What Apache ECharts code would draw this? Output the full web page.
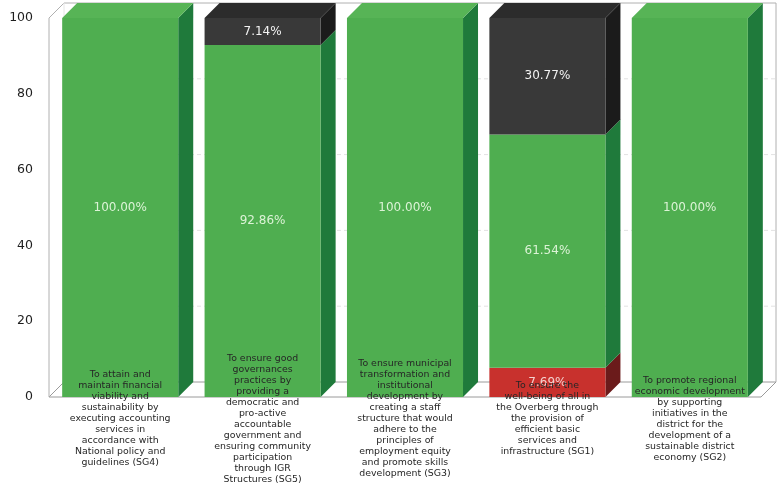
<!DOCTYPE html>
<html>
<head>
<meta charset="utf-8">
<script src="https://cdn.jsdelivr.net/npm/echarts@6/dist/echarts.min.js"></script>
<style>html,body{margin:0;padding:0;background:#fff;}#c{width:777px;height:491px;}</style>
</head>
<body>
<div id="c"></div>
<script>
const categories = [
  "To attain and\nmaintain financial\nviability and\nsustainability by\nexecuting accounting\nservices in\naccordance with\nNational policy and\nguidelines (SG4)",
  "To ensure good\ngovernances\npractices by\nproviding a\ndemocratic and\npro-active\naccountable\ngovernment and\nensuring community\nparticipation\nthrough IGR\nStructures (SG5)",
  "To ensure municipal\ntransformation and\ninstitutional\ndevelopment by\ncreating a staff\nstructure that would\nadhere to the\nprinciples of\nemployment equity\nand promote skills\ndevelopment (SG3)",
  "To ensure the\nwell-being of all in\nthe Overberg through\nthe provision of\nefficient basic\nservices and\ninfrastructure (SG1)",
  "To promote regional\neconomic development\nby supporting\ninitiatives in the\ndistrict for the\ndevelopment of a\nsustainable district\neconomy (SG2)"
];
const redValues   = [0, 0, 0, 7.69, 0];
const greenValues = [100, 92.86, 100, 61.54, 100];
const grayValues  = [0, 7.14, 0, 30.77, 0];
const yTicks = [0, 20, 40, 60, 80, 100];

const DX = 15, DY = -15;
const stackOrder = [
  {name: 'Red', values: redValues, front: '#c8312d', side: '#6b1b1b', top: '#a82826', text: '#f3d2cf'},
  {name: 'Green', values: greenValues, front: '#4fae50', side: '#1f7a3b', top: '#57b456', text: '#dcf3d6'},
  {name: 'Gray', values: grayValues, front: '#393939', side: '#1b1b1b', top: '#2c2c2c', text: '#f2f2f2'}
];
const totals = categories.map((c, i) => stackOrder.reduce((s, o) => s + o.values[i], 0));

function barRender(style) {
  return function (params, api) {
    const ci = api.value(0), b = api.value(1), t = api.value(2), v = api.value(3);
    if (!(t - b > 0)) return;
    const p0 = api.coord([ci, b]);
    const p1 = api.coord([ci, t]);
    const bw = api.size([1, 0])[0] * 0.815;
    const x0 = p0[0] - bw / 2, x1 = p0[0] + bw / 2;
    const yb = p0[1], yt = p1[1];
    const children = [
      {type: 'polygon', shape: {points: [[x1, yb], [x1 + DX, yb + DY], [x1 + DX, yt + DY], [x1, yt]]}, style: {fill: style.side}},
      {type: 'rect', shape: {x: x0, y: yt, width: bw, height: yb - yt}, style: {fill: style.front}}
    ];
    if (Math.abs(t - totals[ci]) < 1e-6) {
      children.push({type: 'polygon', shape: {points: [[x0, yt], [x0 + DX, yt + DY], [x1 + DX, yt + DY], [x1, yt]]}, style: {fill: style.top}});
    }
    children.push({type: 'text', x: p0[0], y: (yb + yt) / 2, style: {
      text: v.toFixed(2) + '%', fill: style.text, font: '12px "DejaVu Sans"', align: 'center', verticalAlign: 'middle'}});
    return {type: 'group', children: children};
  };
}

function wallRender(params, api) {
  const cs = params.coordSys;
  const L = cs.x, R = cs.x + cs.width, T = cs.y, B = cs.y + cs.height;
  const children = [];
  children.push({type: 'polygon', shape: {points: [[L, B], [L + DX, B + DY], [R + DX, B + DY], [R, B]]},
    style: {fill: '#ffffff', stroke: '#9a9a9a', lineWidth: 1}});
  yTicks.forEach(v => {
    if (v === yTicks[0] || v === yTicks[yTicks.length - 1]) return;
    const y = api.coord([0, v])[1];
    children.push({type: 'line', shape: {x1: L + DX, y1: y + DY, x2: R + DX, y2: y + DY},
      style: {stroke: '#e2e2e2', lineWidth: 1, lineDash: [4, 3]}});
  });
  const lineStyle = {stroke: '#b0b0b0', lineWidth: 1};
  children.push({type: 'line', shape: {x1: L + DX, y1: T + DY, x2: R + DX, y2: T + DY}, style: lineStyle});
  children.push({type: 'line', shape: {x1: R + DX, y1: T + DY, x2: R + DX, y2: B + DY}, style: lineStyle});
  children.push({type: 'line', shape: {x1: L, y1: B, x2: L, y2: T}, style: lineStyle});
  children.push({type: 'line', shape: {x1: L, y1: T, x2: L + DX, y2: T + DY}, style: lineStyle});
  children.push({type: 'line', shape: {x1: L + DX, y1: T + DY, x2: L + DX, y2: B + DY}, style: {stroke: '#e6e6e6', lineWidth: 1}});
  return {type: 'group', children: children};
}

const series = [{
  type: 'custom', name: 'wall', z: 1, silent: true, clip: false,
  renderItem: wallRender, data: [[0, 0]]
}];
const base = categories.map(() => 0);
stackOrder.forEach(o => {
  const data = o.values.map((v, i) => {
    const d = [i, base[i], base[i] + v, v];
    base[i] += v;
    return d;
  });
  series.push({type: 'custom', name: o.name, z: 3, clip: false, renderItem: barRender(o), data: data});
});

const chart = echarts.init(document.getElementById('c'), null, {renderer: 'canvas'});
chart.setOption({
  animation: false,
  backgroundColor: '#ffffff',
  grid: {left: 49, right: 16, top: 18, bottom: 94, containLabel: false},
  xAxis: {
    type: 'category', data: categories, z: 10,
    axisLine: {show: false}, axisTick: {show: false},
    axisLabel: {interval: 0, margin: 22, verticalAlign: 'middle', align: 'center',
      fontFamily: 'DejaVu Sans', fontSize: 9.4, lineHeight: 11, color: '#262626'}
  },
  yAxis: {
    type: 'value', min: 0, max: 100, interval: 20,
    axisLine: {show: false}, axisTick: {show: false}, splitLine: {show: false},
    axisLabel: {margin: 16, fontFamily: 'DejaVu Sans', fontSize: 12.5, color: '#1e1e1e'}
  },
  series: series
});
</script>
</body>
</html>
